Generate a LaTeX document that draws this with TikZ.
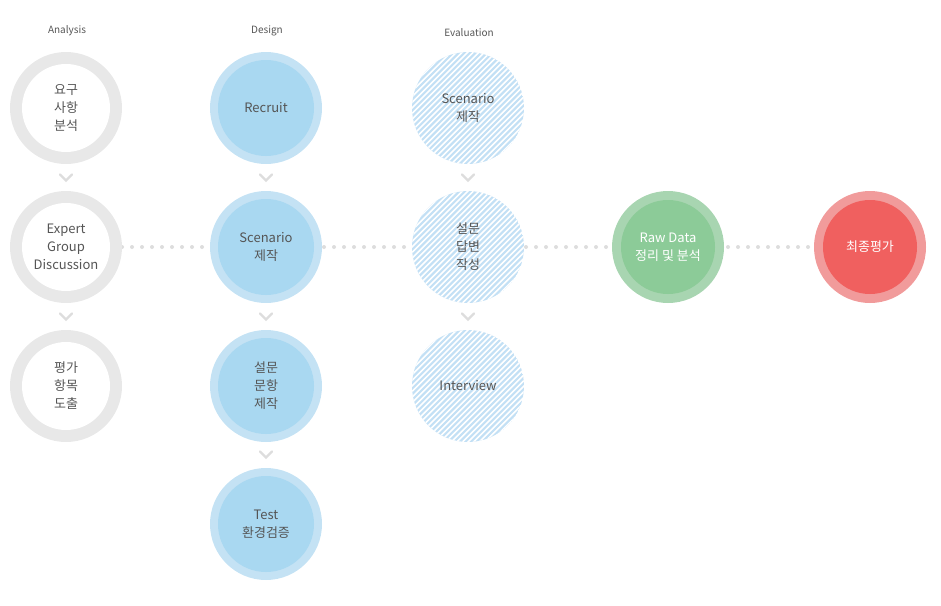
\documentclass[tikz,border=0pt]{standalone}
\usepackage{fontspec}
\setmainfont{Noto Sans CJK KR}
\begin{document}
\definecolor{txt}{HTML}{555555}
\definecolor{ringgray}{HTML}{E8E8E8}
\definecolor{blueout}{HTML}{C4E2F4}
\definecolor{bluein}{HTML}{A9D8F1}
\definecolor{hatchblue}{HTML}{C3E0F5}
\definecolor{greenout}{HTML}{A8D5B1}
\definecolor{greenin}{HTML}{8CCB98}
\definecolor{redout}{HTML}{F19B9B}
\definecolor{redin}{HTML}{F0605F}
\definecolor{dotgray}{HTML}{DDDDDD}
\tikzset{
  lbl/.style={text=txt,font=\fontsize{13}{18}\selectfont,align=center},
  ttl/.style={text=txt,font=\fontsize{10}{12}\selectfont},
  chev/.style={draw=dotgray,line width=2.2pt,line cap=round},
  dotline/.style={draw=dotgray,line width=4pt,line cap=round,dash pattern=on 0pt off 10pt}
}
\newcommand{\graycirc}[3]{%
  \fill[ringgray] (#1) circle (56);
  \fill[white] (#1) circle (44);
  \node[lbl] (#2) at (#1) {#3};}
\newcommand{\bluecirc}[3]{%
  \fill[blueout] (#1) circle (56);
  \fill[bluein] (#1) circle (48);
  \node[lbl] (#2) at (#1) {#3};}
\newcommand{\hatchcirc}[3]{%
  \begin{scope}
  \clip (#1) circle (56);
  \fill[hatchblue] (#1) circle (56);
  \foreach \k in {-20,...,20}
    \draw[white,line width=1.6pt] ([shift={(\k*5.6-60,60)}]#1) -- ++(120,-120);
  \end{scope}
  \node[lbl] (#2) at (#1) {#3};}
\newcommand{\chevron}[1]{%
  \draw[chev] ([shift={(-6,-3.5)}]#1) -- ([shift={(0,2.5)}]#1) -- ([shift={(6,-3.5)}]#1);}
\begin{tikzpicture}[x=1pt,y=-1pt]
\useasboundingbox (0,0) rectangle (941,605);
% titles
\node[ttl] (tA) at (67,31) {Analysis};
\node[ttl] (tD) at (267,31) {Design};
\node[ttl] (tE) at (469,33) {Evaluation};
% dotted links
\coordinate (dA) at (66,247);
\coordinate (dR) at (870,247);
\draw[dotline] (122,247) -- (208,247);
\draw[dotline] (324,247) -- (410,247);
\draw[dotline] (526,247) -- (611,247);
\draw[dotline] (728,247) -- (813,247);
% Analysis
\graycirc{66,108}{a1}{요구\\사항\\분석}
\graycirc{66,247}{a2}{Expert\\Group\\Discussion}
\graycirc{66,386}{a3}{평가\\항목\\도출}
% Design
\bluecirc{266,108}{d1}{Recruit}
\bluecirc{266,247}{d2}{Scenario\\제작}
\bluecirc{266,386}{d3}{설문\\문항\\제작}
\bluecirc{266,524}{d4}{Test\\환경검증}
% Evaluation
\hatchcirc{468,108}{e1}{Scenario\\제작}
\hatchcirc{468,247}{e2}{설문\\답변\\작성}
\hatchcirc{468,386}{e3}{Interview}
% Raw data / final
\fill[greenout] (668,247) circle (56);
\fill[greenin] (668,247) circle (47);
\node[lbl,text=white] (g1) at (668,247) {Raw Data\\정리 및 분석};
\fill[redout] (870,247) circle (56);
\fill[redin] (870,247) circle (47);
\node[lbl,text=white] (r1) at (870,247) {최종평가};
% chevrons
\foreach \cx in {66,266,468} {
  \chevron{\cx,178}
  \chevron{\cx,317}
}
\chevron{266,455}
\end{tikzpicture}
\end{document}
